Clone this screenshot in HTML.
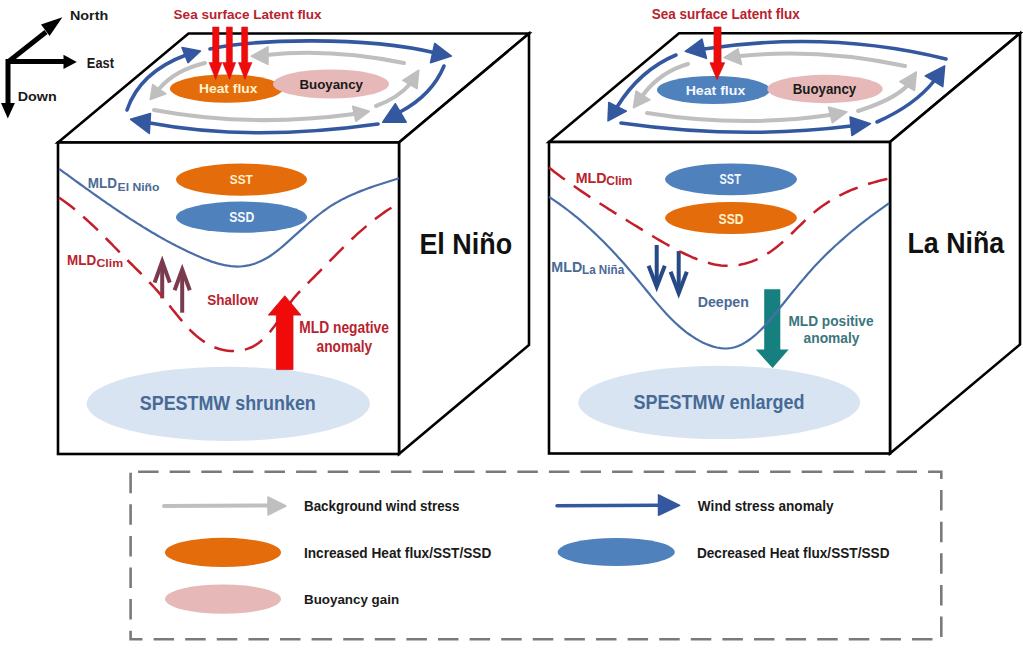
<!DOCTYPE html>
<html><head><meta charset="utf-8"><style>
html,body{margin:0;padding:0;background:#fff;width:1023px;height:656px;overflow:hidden}
svg{display:block}
text{font-family:"Liberation Sans",sans-serif;font-weight:bold;font-kerning:none}
</style></head><body>
<svg width="1023" height="656" viewBox="0 0 1023 656">
<rect width="1023" height="656" fill="#fff"/>
<path d="M58,142.5 L188.5,33.5 L529,33.5 L399,142.5 Z" fill="#fff" stroke="#000" stroke-width="2.6" stroke-linejoin="miter"/>
<path d="M399,142.5 L529,33.5 L529,345 L399,454 Z" fill="#fff" stroke="#000" stroke-width="2.6" stroke-linejoin="miter"/>
<rect x="58" y="142.5" width="341" height="311.5" fill="#fff" stroke="#000" stroke-width="2.6"/>
<path d="M549,142 L679,33.3 L1020,33.3 L890,142 Z" fill="#fff" stroke="#000" stroke-width="2.6" stroke-linejoin="miter"/>
<path d="M890,142 L1020,33.3 L1020,344.5 L890,453.5 Z" fill="#fff" stroke="#000" stroke-width="2.6" stroke-linejoin="miter"/>
<rect x="549" y="142" width="341" height="311.5" fill="#fff" stroke="#000" stroke-width="2.6"/>
<g stroke="#000" stroke-width="5" fill="none"><path d="M8,106 L8,61.5 L66,61.5"/><path d="M8,62 L46,32"/></g>
<polygon points="76.8,62 63.5,54.8 63.5,68.9" fill="#000"/>
<polygon points="7.8,118.5 1,103 14.9,103" fill="#000"/>
<polygon points="62.4,17.3 41,24.4 49.6,36.1" fill="#000"/>
<text transform="translate(69.94,20.20) scale(1.0614,1)" font-size="13.52" fill="#1A1A1A">North</text>
<text transform="translate(86.84,67.70) scale(0.9012,1)" font-size="14.24" fill="#1A1A1A">East</text>
<text transform="translate(17.74,100.60) scale(1.0847,1)" font-size="13.23" fill="#1A1A1A">Down</text>
<text transform="translate(173.61,19.00) scale(1.0000,1)" font-size="13.52" fill="#B8232E">Sea surface Latent flux</text>
<path d="M210,49 C 250,40 360,35 436,53" fill="none" stroke="#3458A0" stroke-width="3.6" stroke-linecap="round"/>
<polygon points="451.4,56 434.7,43.4 430.5,62.7" fill="#3458A0" stroke="#3458A0" stroke-width="1.5" stroke-linejoin="round"/>
<path d="M444,66 Q 432,95 400,112" fill="none" stroke="#3458A0" stroke-width="3.6" stroke-linecap="round"/>
<polygon points="382.7,122.2 395.3,103.7 406.2,122.2" fill="#3458A0" stroke="#3458A0" stroke-width="1.5" stroke-linejoin="round"/>
<path d="M378,124 Q 250,142 150,123" fill="none" stroke="#3458A0" stroke-width="3.6" stroke-linecap="round"/>
<polygon points="130.6,119.3 150.5,113.5 149.3,133.4" fill="#3458A0" stroke="#3458A0" stroke-width="1.5" stroke-linejoin="round"/>
<path d="M127,110 Q 140,72 186,55" fill="none" stroke="#3458A0" stroke-width="3.6" stroke-linecap="round"/>
<polygon points="200.5,51 182,47.6 188,62.7" fill="#3458A0" stroke="#3458A0" stroke-width="1.5" stroke-linejoin="round"/>
<path d="M404,63 Q 330,48 266,55" fill="none" stroke="#BFBFBF" stroke-width="4" stroke-linecap="round"/>
<polygon points="251.2,56.2 268,46.8 268,64.4" fill="#BFBFBF" stroke="#BFBFBF" stroke-width="1.5" stroke-linejoin="round"/>
<path d="M205,63 Q 175,70 159,89" fill="none" stroke="#BFBFBF" stroke-width="4" stroke-linecap="round"/>
<polygon points="150.2,99.6 152.7,84.5 166,93.8" fill="#BFBFBF" stroke="#BFBFBF" stroke-width="1.5" stroke-linejoin="round"/>
<path d="M154,110 Q 250,128 354,114" fill="none" stroke="#BFBFBF" stroke-width="4" stroke-linecap="round"/>
<polygon points="369.3,111.3 352.6,106.3 355.9,121.3" fill="#BFBFBF" stroke="#BFBFBF" stroke-width="1.5" stroke-linejoin="round"/>
<path d="M376,106 Q 398,98 410,84" fill="none" stroke="#BFBFBF" stroke-width="4" stroke-linecap="round"/>
<polygon points="418.8,70.2 402.8,80.3 417,88.7" fill="#BFBFBF" stroke="#BFBFBF" stroke-width="1.5" stroke-linejoin="round"/>
<ellipse cx="226.5" cy="88.6" rx="56.6" ry="14.1" fill="#E46C0A"/>
<ellipse cx="331" cy="84" rx="58" ry="14.6" fill="#E6B9B8"/>
<text transform="translate(198.97,93.40) scale(1.0143,1)" font-size="13.66" fill="#FFF2CC">Heat flux</text>
<text transform="translate(299.41,88.60) scale(0.9749,1)" font-size="13.66" fill="#1A1A1A">Buoyancy</text>
<polygon points="212.60000000000002,27 219.0,27 219.0,62.5 222,62.5 215.7,79.6 209,62.5 212.60000000000002,62.5" fill="#F00A0A" stroke="#D0141C" stroke-width="0.5"/>
<polygon points="226.3,27 232.39999999999998,27 232.39999999999998,62.5 235.7,62.5 229.6,79.6 222.5,62.5 226.3,62.5" fill="#F00A0A" stroke="#D0141C" stroke-width="0.5"/>
<polygon points="241.60000000000002,27 247.7,27 247.7,62.5 252,62.5 245,79.6 238.4,62.5 241.60000000000002,62.5" fill="#F00A0A" stroke="#D0141C" stroke-width="0.5"/>
<ellipse cx="228.3" cy="403.8" rx="141.7" ry="37.1" fill="#D9E4F2"/>
<ellipse cx="241.5" cy="179.6" rx="65.5" ry="16.1" fill="#E46C0A"/>
<ellipse cx="241.5" cy="217.2" rx="65.5" ry="15.6" fill="#4F81BD"/>
<g stroke="#7B3B4E" stroke-width="4" fill="none" stroke-linejoin="miter"><path d="M162.2,298.4 L162.2,262"/><path d="M154.6,282.6 L162.2,261.5 L169.8,282.6"/><path d="M182.2,312.7 L182.2,270"/><path d="M174.6,290.2 L182.2,269.5 L189.8,290.2"/></g>
<path d="M59.1,168.9 L61.8,170.8 L64.5,172.8 L67.2,174.7 L69.8,176.7 L72.5,178.6 L75.2,180.6 L77.9,182.5 L80.6,184.5 L83.3,186.4 L85.9,188.3 L88.6,190.2 L91.3,192.2 L94.0,194.1 L96.7,196.0 L99.4,197.9 L102.1,199.8 L104.8,201.7 L107.5,203.6 L110.3,205.4 L113.0,207.3 L115.7,209.1 L118.4,211.0 L121.2,212.8 L123.9,214.7 L126.7,216.5 L129.4,218.3 L132.2,220.1 L134.9,221.8 L137.7,223.6 L140.5,225.3 L143.3,227.1 L146.1,228.8 L148.9,230.5 L151.7,232.2 L154.5,233.8 L157.4,235.5 L160.2,237.1 L163.1,238.8 L166.0,240.4 L168.9,241.9 L171.8,243.5 L174.8,245.0 L177.7,246.6 L180.7,248.1 L183.7,249.5 L186.7,251.0 L189.8,252.4 L192.8,253.8 L195.9,255.2 L199.0,256.6 L202.2,257.9 L205.4,259.2 L208.6,260.4 L211.7,261.6 L215.0,262.6 L218.2,263.6 L221.4,264.4 L224.6,265.1 L227.8,265.7 L231.0,266.2 L234.2,266.4 L237.3,266.6 L240.5,266.5 L243.6,266.2 L246.7,265.7 L249.7,265.1 L252.8,264.3 L255.8,263.3 L258.7,262.1 L261.6,260.8 L264.5,259.3 L267.3,257.7 L270.1,256.0 L272.8,254.1 L275.5,252.1 L278.1,250.1 L280.7,248.0 L283.3,245.8 L285.8,243.6 L288.3,241.4 L290.8,239.1 L293.3,236.9 L295.8,234.6 L298.3,232.4 L300.8,230.1 L303.3,227.9 L305.7,225.7 L308.2,223.5 L310.7,221.3 L313.3,219.2 L315.8,217.1 L318.4,215.0 L321.0,213.0 L323.6,211.0 L326.3,209.1 L329.0,207.2 L331.7,205.4 L334.5,203.7 L337.4,202.1 L340.2,200.5 L343.2,198.9 L346.1,197.5 L349.1,196.1 L352.1,194.7 L355.2,193.4 L358.2,192.1 L361.3,190.9 L364.4,189.7 L367.5,188.5 L370.7,187.4 L373.8,186.3 L377.0,185.2 L380.1,184.2 L383.3,183.2 L386.4,182.2 L389.5,181.2 L392.7,180.2 L395.8,179.3 L398.9,178.3" fill="none" stroke="#4A6EA8" stroke-width="2.2"/>
<path d="M58.9,197.5 L62.1,199.7 L65.2,201.9 L68.3,204.2 L71.3,206.6 L74.3,209.0 L77.3,211.5 L80.3,214.0 L83.2,216.6 L86.1,219.2 L89.0,221.8 L91.8,224.5 L94.7,227.2 L97.5,229.9 L100.3,232.7 L103.1,235.4 L105.8,238.2 L108.6,241.0 L111.3,243.7 L114.0,246.5 L116.8,249.3 L119.5,252.1 L122.2,254.8 L124.9,257.6 L127.6,260.3 L130.3,263.0 L133.0,265.7 L135.7,268.4 L138.4,271.0 L141.1,273.7 L143.7,276.4 L146.4,279.2 L149.1,281.9 L151.7,284.7 L154.3,287.5 L156.9,290.4 L159.5,293.4 L162.0,296.4 L164.6,299.4 L167.1,302.6 L169.6,305.7 L172.1,308.9 L174.7,312.1 L177.2,315.2 L179.8,318.4 L182.4,321.4 L185.0,324.5 L187.7,327.4 L190.4,330.3 L193.2,333.0 L196.1,335.6 L199.0,338.0 L202.0,340.3 L205.2,342.4 L208.4,344.4 L211.7,346.1 L215.1,347.5 L218.7,348.8 L222.3,349.7 L226.1,350.4 L229.9,350.9 L233.7,351.0 L237.5,350.8 L241.3,350.3 L245.0,349.6 L248.6,348.4 L252.1,347.0 L255.4,345.1 L258.6,343.0 L261.6,340.6 L264.5,338.0 L267.2,335.2 L269.8,332.2 L272.2,329.1 L274.6,326.0 L276.9,322.7 L279.1,319.4 L281.3,316.1 L283.4,312.7 L285.6,309.4 L287.9,306.1 L290.1,302.9 L292.5,299.8 L294.9,296.8 L297.5,293.9 L300.1,291.1 L302.8,288.4 L305.5,285.6 L308.2,282.9 L310.9,280.2 L313.6,277.5 L316.4,274.7 L319.1,272.0 L321.8,269.2 L324.5,266.4 L327.2,263.7 L329.9,260.9 L332.7,258.1 L335.4,255.3 L338.1,252.6 L340.9,249.8 L343.6,247.1 L346.4,244.4 L349.2,241.7 L352.0,239.0 L354.8,236.4 L357.7,233.7 L360.6,231.1 L363.5,228.6 L366.4,226.1 L369.4,223.6 L372.4,221.2 L375.5,218.8 L378.6,216.5 L381.7,214.2 L384.9,211.9 L388.1,209.8 L391.4,207.7 L394.7,205.6 L398.1,203.6" fill="none" stroke="#C41E2A" stroke-width="2.5" stroke-dasharray="20,11"/>
<polygon points="276.4,369.6 276.4,315.1 268.3,315.1 284.8,295.7 301,315.1 293,315.1 293,369.6" fill="#F00A0A" stroke="#C8141C" stroke-width="0.8"/>
<text transform="translate(229.86,184.30) scale(0.8928,1)" font-size="13.23" fill="#FFF2CC">SST</text>
<text transform="translate(229.15,222.40) scale(0.8827,1)" font-size="13.81" fill="#F4F8FF">SSD</text>
<text transform="translate(87.80,187.60) scale(0.9358,1)" font-size="14.39" fill="#4A6A95">MLD</text>
<text transform="translate(117.59,190.60) scale(1.0591,1)" font-size="11.48" fill="#4A6A95">El Niño</text>
<text transform="translate(67.00,264.50) scale(0.9752,1)" font-size="13.81" fill="#B8232E">MLD</text>
<text transform="translate(96.50,266.90) scale(1.0717,1)" font-size="11.48" fill="#B8232E">Clim</text>
<text transform="translate(207.31,305.20) scale(0.9685,1)" font-size="13.95" fill="#B8232E">Shallow</text>
<text transform="translate(299.28,333.40) scale(0.8789,1)" font-size="15.70" fill="#B8232E">MLD negative</text>
<text transform="translate(316.60,351.80) scale(0.8742,1)" font-size="15.70" fill="#B8232E">anomaly</text>
<text transform="translate(419.40,253.50) scale(0.9172,1)" font-size="29.36" fill="#111">El Niño</text>
<text transform="translate(139.78,409.70) scale(0.8994,1)" font-size="19.91" fill="#466A96">SPESTMW shrunken</text>
<text transform="translate(651.81,18.80) scale(0.9496,1)" font-size="14.24" fill="#B8232E">Sea surface Latent flux</text>
<path d="M946,59 Q 830,30 704,49" fill="none" stroke="#3458A0" stroke-width="3.6" stroke-linecap="round"/>
<polygon points="685.3,51.4 702,39.1 706.5,58.4" fill="#3458A0" stroke="#3458A0" stroke-width="1.5" stroke-linejoin="round"/>
<path d="M676,55 Q 640,70 617,107" fill="none" stroke="#3458A0" stroke-width="3.6" stroke-linecap="round"/>
<polygon points="608,120.9 608.8,102.4 626.4,111.2" fill="#3458A0" stroke="#3458A0" stroke-width="1.5" stroke-linejoin="round"/>
<path d="M621,123 Q 740,140 851,126" fill="none" stroke="#3458A0" stroke-width="3.6" stroke-linecap="round"/>
<polygon points="870.5,123.7 850,116.9 851.9,135.5" fill="#3458A0" stroke="#3458A0" stroke-width="1.5" stroke-linejoin="round"/>
<path d="M877,122 Q 915,105 934,81" fill="none" stroke="#3458A0" stroke-width="3.6" stroke-linecap="round"/>
<polygon points="944.7,66 925.2,75.8 942.8,86.6" fill="#3458A0" stroke="#3458A0" stroke-width="1.5" stroke-linejoin="round"/>
<path d="M905,66 Q 820,48 740,56" fill="none" stroke="#BFBFBF" stroke-width="4" stroke-linecap="round"/>
<polygon points="724,57.6 738,48.8 741.6,64.6" fill="#BFBFBF" stroke="#BFBFBF" stroke-width="1.5" stroke-linejoin="round"/>
<path d="M688,64 Q 660,72 643,95" fill="none" stroke="#BFBFBF" stroke-width="4" stroke-linecap="round"/>
<polygon points="633.4,107.7 636,91 650,99.8" fill="#BFBFBF" stroke="#BFBFBF" stroke-width="1.5" stroke-linejoin="round"/>
<path d="M647,113 Q 740,128 830,115" fill="none" stroke="#BFBFBF" stroke-width="4" stroke-linecap="round"/>
<polygon points="847,112 828.4,107.1 832.3,122.8" fill="#BFBFBF" stroke="#BFBFBF" stroke-width="1.5" stroke-linejoin="round"/>
<path d="M858,111 Q 893,100 907,86" fill="none" stroke="#BFBFBF" stroke-width="4" stroke-linecap="round"/>
<polygon points="916.4,71.9 899.8,81.7 914.5,90.5" fill="#BFBFBF" stroke="#BFBFBF" stroke-width="1.5" stroke-linejoin="round"/>
<ellipse cx="713.5" cy="90" rx="56.5" ry="14.1" fill="#4F81BD"/>
<ellipse cx="825" cy="89" rx="57.7" ry="14.2" fill="#E6B9B8"/>
<text transform="translate(685.66,95.00) scale(1.0449,1)" font-size="13.52" fill="#F4F8FF">Heat flux</text>
<text transform="translate(792.71,93.80) scale(0.8970,1)" font-size="14.83" fill="#1A1A1A">Buoyancy</text>
<polygon points="714,27.1 721,27.1 721,62.8 724.6,62.8 717,79.5 710,62.8 714,62.8" fill="#F00A0A" stroke="#C8141C" stroke-width="0.8"/>
<ellipse cx="719.2" cy="402.4" rx="141" ry="36.7" fill="#D9E4F2"/>
<ellipse cx="731" cy="179.3" rx="65.9" ry="15.9" fill="#4F81BD"/>
<ellipse cx="731" cy="218" rx="65.9" ry="15.9" fill="#E46C0A"/>
<g stroke="#264A85" stroke-width="4" fill="none"><path d="M656.7,245 L656.7,286"/><path d="M648.6,265.7 L656.7,286.6 L664.8,265.7"/><path d="M678.7,251.1 L678.7,293"/><path d="M670.6,271.8 L678.7,293.2 L686.8,271.8"/></g>
<polygon points="764.2,289.2 780.3,289.2 780.3,349.6 788.7,349.6 772.6,368 755.8,349.6 764.2,349.6" fill="#168080"/>
<path d="M548.9,167.5 L551.6,169.6 L554.2,171.7 L556.9,173.7 L559.6,175.7 L562.2,177.7 L564.9,179.6 L567.6,181.6 L570.3,183.5 L573.0,185.4 L575.7,187.3 L578.5,189.2 L581.2,191.1 L583.9,192.9 L586.7,194.7 L589.4,196.6 L592.1,198.4 L594.9,200.2 L597.7,202.0 L600.4,203.8 L603.2,205.5 L606.0,207.3 L608.7,209.1 L611.5,210.8 L614.3,212.6 L617.1,214.3 L619.9,216.0 L622.7,217.8 L625.5,219.5 L628.3,221.2 L631.1,223.0 L633.9,224.7 L636.7,226.4 L639.5,228.1 L642.3,229.9 L645.2,231.6 L648.0,233.3 L650.8,235.0 L653.7,236.8 L656.5,238.5 L659.4,240.2 L662.3,241.8 L665.2,243.5 L668.1,245.2 L671.1,246.8 L674.0,248.4 L677.0,250.0 L680.0,251.5 L683.1,253.0 L686.2,254.5 L689.3,255.9 L692.4,257.3 L695.5,258.5 L698.7,259.8 L701.9,260.9 L705.1,261.9 L708.2,262.8 L711.4,263.7 L714.6,264.4 L717.8,264.9 L721.0,265.4 L724.2,265.7 L727.4,265.8 L730.6,265.8 L733.7,265.6 L736.9,265.2 L740.0,264.7 L743.1,264.1 L746.2,263.3 L749.2,262.4 L752.2,261.3 L755.2,260.1 L758.1,258.8 L761.0,257.3 L763.9,255.8 L766.7,254.1 L769.4,252.4 L772.1,250.5 L774.8,248.5 L777.4,246.5 L779.9,244.4 L782.4,242.2 L784.9,239.9 L787.4,237.6 L789.9,235.3 L792.3,233.0 L794.7,230.6 L797.1,228.2 L799.6,225.8 L802.0,223.5 L804.4,221.1 L806.9,218.8 L809.4,216.5 L811.9,214.3 L814.4,212.1 L817.0,210.0 L819.6,208.0 L822.3,206.0 L825.0,204.2 L827.8,202.4 L830.5,200.6 L833.4,198.9 L836.2,197.3 L839.1,195.8 L842.0,194.3 L845.0,192.9 L848.0,191.5 L851.0,190.2 L854.0,189.0 L857.1,187.8 L860.2,186.6 L863.3,185.6 L866.5,184.5 L869.7,183.5 L872.9,182.6 L876.1,181.7 L879.4,180.8 L882.6,180.0 L885.9,179.2 L889.2,178.5" fill="none" stroke="#C41E2A" stroke-width="2.5" stroke-dasharray="20,11"/>
<path d="M549.1,196.9 L552.4,199.1 L555.6,201.3 L558.8,203.5 L562.0,205.8 L565.1,208.1 L568.2,210.5 L571.3,212.9 L574.3,215.3 L577.3,217.7 L580.2,220.2 L583.1,222.6 L586.0,225.2 L588.8,227.7 L591.6,230.3 L594.4,232.9 L597.2,235.5 L599.9,238.2 L602.6,240.8 L605.3,243.5 L607.9,246.3 L610.6,249.0 L613.2,251.8 L615.8,254.6 L618.4,257.4 L621.0,260.3 L623.5,263.1 L626.1,266.0 L628.6,269.0 L631.1,271.9 L633.6,274.8 L636.1,277.8 L638.6,280.8 L641.1,283.9 L643.6,286.9 L646.1,290.0 L648.6,293.0 L651.1,296.1 L653.6,299.1 L656.1,302.1 L658.7,305.1 L661.3,308.1 L663.9,311.1 L666.5,313.9 L669.2,316.8 L671.9,319.5 L674.7,322.3 L677.6,324.9 L680.4,327.4 L683.4,329.9 L686.4,332.3 L689.5,334.5 L692.7,336.7 L695.9,338.7 L699.2,340.6 L702.6,342.4 L706.1,344.0 L709.7,345.4 L713.2,346.6 L716.9,347.5 L720.5,348.2 L724.1,348.5 L727.7,348.4 L731.3,348.0 L734.8,347.2 L738.3,346.0 L741.7,344.4 L745.0,342.6 L748.3,340.5 L751.5,338.2 L754.6,335.7 L757.6,333.0 L760.5,330.2 L763.3,327.4 L766.0,324.5 L768.6,321.5 L771.2,318.5 L773.7,315.4 L776.2,312.4 L778.7,309.4 L781.1,306.3 L783.6,303.3 L786.0,300.3 L788.4,297.3 L790.8,294.3 L793.2,291.3 L795.7,288.4 L798.1,285.4 L800.5,282.5 L803.0,279.6 L805.5,276.7 L807.9,273.8 L810.5,271.0 L813.0,268.1 L815.6,265.3 L818.3,262.5 L820.9,259.8 L823.6,257.0 L826.3,254.3 L829.1,251.6 L831.9,249.0 L834.7,246.3 L837.6,243.7 L840.5,241.1 L843.4,238.6 L846.3,236.0 L849.2,233.5 L852.2,231.0 L855.2,228.6 L858.2,226.1 L861.3,223.7 L864.3,221.3 L867.4,219.0 L870.4,216.6 L873.5,214.3 L876.6,212.1 L879.7,209.8 L882.9,207.6 L886.0,205.4 L889.1,203.2" fill="none" stroke="#4A6EA8" stroke-width="2.2"/>
<text transform="translate(719.59,184.20) scale(0.7364,1)" font-size="14.83" fill="#F4F8FF">SST</text>
<text transform="translate(718.55,223.80) scale(0.8269,1)" font-size="14.68" fill="#FFF2CC">SSD</text>
<text transform="translate(575.75,182.80) scale(0.9999,1)" font-size="14.24" fill="#B8232E">MLD</text>
<text transform="translate(606.21,185.20) scale(0.9765,1)" font-size="12.35" fill="#B8232E">Clim</text>
<text transform="translate(551.35,271.80) scale(0.9999,1)" font-size="14.24" fill="#4A6A95">MLD</text>
<text transform="translate(582.02,274.30) scale(0.9349,1)" font-size="12.50" fill="#4A6A95">La Niña</text>
<text transform="translate(697.75,306.60) scale(0.9100,1)" font-size="15.55" fill="#4A6A95">Deepen</text>
<text transform="translate(788.38,326.10) scale(0.9336,1)" font-size="14.68" fill="#3A767C">MLD positive</text>
<text transform="translate(803.60,343.20) scale(0.9399,1)" font-size="14.68" fill="#3A767C">anomaly</text>
<text transform="translate(907.51,253.40) scale(0.9305,1)" font-size="28.78" fill="#111">La Niña</text>
<text transform="translate(633.58,409.40) scale(0.8844,1)" font-size="20.35" fill="#466A96">SPESTMW enlarged</text>
<path d="M130.6,471.7 H941.3 V639.3 H130.6 Z" fill="none" stroke="#7A7A7A" stroke-width="2.6" stroke-dasharray="20.5,11.1" stroke-dashoffset="24.1"/>
<path d="M164,506 L268,505.5" fill="none" stroke="#BFBFBF" stroke-width="4" stroke-linecap="round"/>
<polygon points="286,506 268,497 268,515" fill="#BFBFBF" stroke="#BFBFBF" stroke-width="1.5" stroke-linejoin="round"/>
<ellipse cx="223" cy="552.4" rx="58" ry="14.6" fill="#E46C0A"/>
<ellipse cx="223" cy="599.1" rx="58" ry="14.7" fill="#E6B9B8"/>
<path d="M557,505.8 L660,505.3" fill="none" stroke="#3458A0" stroke-width="3.6" stroke-linecap="round"/>
<polygon points="679.7,505.3 658.5,494.8 658.5,515.2" fill="#3458A0" stroke="#3458A0" stroke-width="1.5" stroke-linejoin="round"/>
<ellipse cx="616.2" cy="552" rx="58.6" ry="14" fill="#4F81BD"/>
<text transform="translate(304.00,510.50) scale(0.9415,1)" font-size="14.24" fill="#1A1A1A">Background wind stress</text>
<text transform="translate(303.99,557.70) scale(0.9594,1)" font-size="14.24" fill="#1A1A1A">Increased Heat flux/SST/SSD</text>
<text transform="translate(304.01,603.90) scale(1.0001,1)" font-size="13.37" fill="#1A1A1A">Buoyancy gain</text>
<text transform="translate(697.79,510.50) scale(0.9544,1)" font-size="14.24" fill="#1A1A1A">Wind stress anomaly</text>
<text transform="translate(696.89,557.70) scale(0.9787,1)" font-size="13.95" fill="#1A1A1A">Decreased Heat flux/SST/SSD</text>
</svg>
</body></html>
